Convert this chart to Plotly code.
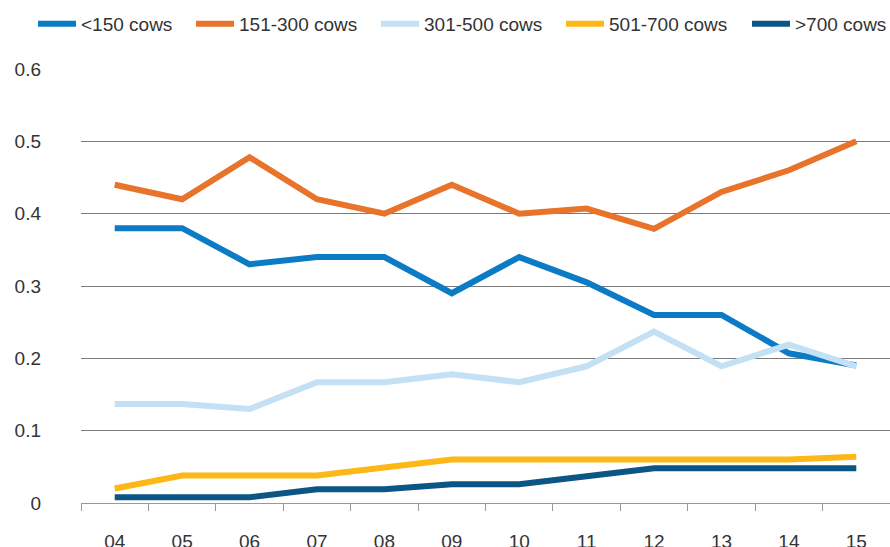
import plotly.graph_objects as go

years = ["04", "05", "06", "07", "08", "09", "10", "11", "12", "13", "14", "15"]
series_names = ["<150 cows", "151-300 cows", "301-500 cows", "501-700 cows", ">700 cows"]
lt150 = [0.38, 0.38, 0.33, 0.34, 0.34, 0.29, 0.34, 0.305, 0.26, 0.26, 0.207, 0.19]
s151_300 = [0.44, 0.42, 0.478, 0.42, 0.40, 0.44, 0.40, 0.407, 0.379, 0.43, 0.46, 0.50]
s301_500 = [0.137, 0.137, 0.13, 0.167, 0.167, 0.178, 0.167, 0.189, 0.237, 0.189, 0.219, 0.189]
s501_700 = [0.02, 0.038, 0.038, 0.038, 0.049, 0.06, 0.06, 0.06, 0.06, 0.06, 0.06, 0.064]
gt700 = [0.008, 0.008, 0.008, 0.019, 0.019, 0.026, 0.026, 0.037, 0.048, 0.048, 0.048, 0.048]
colors = ["#0a7bc4", "#e8732a", "#c3e0f5", "#fbb816", "#0b5684"]

W, H = 890, 547
legend_line_x = [37, 195, 380, 565, 751]  # pixel positions of legend entries

fig = go.Figure()
legend_ids = ["legend", "legend2", "legend3", "legend4", "legend5"]
for name, vals, col, lid in zip(series_names, [lt150, s151_300, s301_500, s501_700, gt700],
                                colors, legend_ids):
    fig.add_trace(go.Scatter(x=years, y=vals, name=name, mode="lines", legend=lid,
                             showlegend=True, line=dict(color=col, width=6)))

layout_legends = {}
for lid, px in zip(legend_ids, legend_line_x):
    layout_legends[lid] = dict(orientation="h", x=(px - 4) / W, xref="container",
                               y=1 - 24 / H, yref="container", yanchor="middle",
                               xanchor="left", itemwidth=38, visible=True,
                               font=dict(size=19, color="#333333"),
                               bgcolor="rgba(0,0,0,0)")

fig.update_layout(
    width=W, height=H, showlegend=True,
    margin=dict(l=81, r=0, t=69, b=44, autoexpand=False),
    paper_bgcolor="white", plot_bgcolor="white",
    font=dict(family="Liberation Sans, Arial, sans-serif", color="#333333", size=18),
    xaxis=dict(type="category", range=[-0.5, 11.5], showgrid=False, showline=True,
               linecolor="#999999", linewidth=1, ticks="outside", tickson="boundaries",
               ticklen=7, tickcolor="#999999", tickfont=dict(size=19, color="#333333"),
               ticklabelstandoff=21, zeroline=False, automargin=False),
    yaxis=dict(range=[0, 0.6], showgrid=True, gridcolor="#7a7a7a", gridwidth=1,
               zeroline=False, showline=False, automargin=False,
               tickvals=[0, 0.1, 0.2, 0.3, 0.4, 0.5, 0.6],
               ticktext=["0", "0.1", "0.2", "0.3", "0.4", "0.5", "0.6"],
               tickfont=dict(size=19, color="#333333"), ticklabelstandoff=39),
    **layout_legends,
)

fig.write_html("out.html", config={"displayModeBar": False},
               post_script="document.body.style.margin='0';")
